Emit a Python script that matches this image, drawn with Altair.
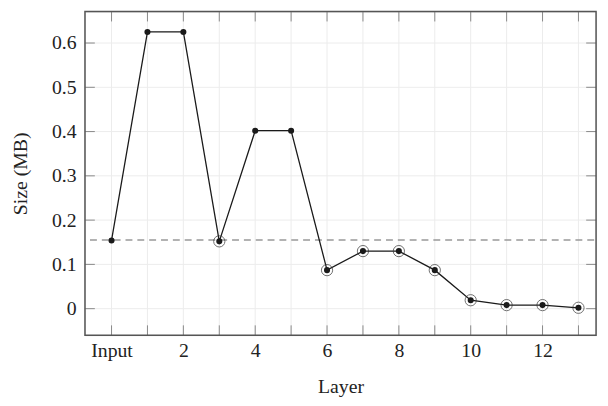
import altair as alt
import pandas as pd

layers = list(range(14))
sizes = [0.154, 0.625, 0.625, 0.152, 0.402, 0.402, 0.087, 0.130, 0.130, 0.087, 0.019, 0.008, 0.008, 0.002]
ringed = [3, 6, 7, 8, 9, 10, 11, 12, 13]
threshold = 0.155
x_label_values = [0, 2, 4, 6, 8, 10, 12]
y_ticks = [0, 0.1, 0.2, 0.3, 0.4, 0.5, 0.6]
x_ticks = list(range(14))

W, H = 518, 328
XD = [-0.74, 13.49]
YD = [-0.06, 0.671]
FONT = "Liberation Serif"
FS = 20

df = pd.DataFrame({"layer": layers, "size": sizes})
df_ring = df[df["layer"].isin(ringed)]
xs = alt.Scale(domain=XD, nice=False, zero=False)
ys = alt.Scale(domain=YD, nice=False, zero=False)

xgrid = alt.Chart(pd.DataFrame({"x": x_ticks})).mark_rule(color="#ececec", strokeWidth=1).encode(
    x=alt.X("x:Q", scale=xs))
ygrid = alt.Chart(pd.DataFrame({"y": y_ticks})).mark_rule(color="#ececec", strokeWidth=1).encode(
    y=alt.Y("y:Q", scale=ys))

tick_col = "#888888"
xt_bot = alt.Chart(pd.DataFrame({"x": x_ticks})).mark_rule(color=tick_col, strokeWidth=1).encode(
    x=alt.X("x:Q", scale=xs), y=alt.value(H - 10), y2=alt.value(H))
xt_top = alt.Chart(pd.DataFrame({"x": x_ticks})).mark_rule(color=tick_col, strokeWidth=1).encode(
    x=alt.X("x:Q", scale=xs), y=alt.value(0), y2=alt.value(10))
yt_left = alt.Chart(pd.DataFrame({"y": y_ticks})).mark_rule(color=tick_col, strokeWidth=1).encode(
    y=alt.Y("y:Q", scale=ys), x=alt.value(0), x2=alt.value(10))
yt_right = alt.Chart(pd.DataFrame({"y": y_ticks})).mark_rule(color=tick_col, strokeWidth=1).encode(
    y=alt.Y("y:Q", scale=ys), x=alt.value(W - 10), x2=alt.value(W))

frame = alt.Chart(pd.DataFrame({"k": [0]})).mark_rect(
    fill=None, filled=False, stroke="#555555", strokeWidth=1.5).encode(
    x=alt.value(0), x2=alt.value(W), y=alt.value(0), y2=alt.value(H))

dash = alt.Chart(pd.DataFrame({"x": [-0.6], "x2": [13.49], "y": [threshold]})).mark_rule(
    color="#999999", strokeWidth=1.6, strokeDash=[7, 5]).encode(
    x=alt.X("x:Q", scale=xs), x2="x2:Q", y=alt.Y("y:Q", scale=ys))

line = alt.Chart(df).mark_line(color="#1a1a1a", strokeWidth=1.3).encode(
    x=alt.X("layer:Q", scale=xs,
            axis=alt.Axis(values=x_label_values, grid=False, ticks=False, domain=False,
                          labelExpr="datum.value == 0 ? 'Input' : datum.label",
                          title="Layer", labelFont=FONT, titleFont=FONT, labelFontSize=FS,
                          titleFontSize=FS, titleFontWeight="normal", labelColor="#222",
                          titleColor="#222", labelPadding=6, titlePadding=16)),
    y=alt.Y("size:Q", scale=ys,
            axis=alt.Axis(values=y_ticks, grid=False, ticks=False, domain=False,
                          labelExpr="datum.value == 0 ? '0' : format(datum.value, '.1f')",
                          title="Size (MB)", labelFont=FONT, titleFont=FONT, labelFontSize=FS,
                          titleFontSize=FS, titleFontWeight="normal", labelColor="#222",
                          titleColor="#222", labelPadding=9, titlePadding=21)))

rings = alt.Chart(df_ring).mark_point(shape="circle", size=130, filled=False,
                                       color="#333333", strokeWidth=1).encode(
    x=alt.X("layer:Q", scale=xs), y=alt.Y("size:Q", scale=ys))
dots = alt.Chart(df).mark_point(shape="circle", size=38, filled=True, color="#1a1a1a",
                                opacity=1).encode(
    x=alt.X("layer:Q", scale=xs), y=alt.Y("size:Q", scale=ys))

chart = alt.layer(xgrid, ygrid, xt_bot, xt_top, yt_left, yt_right, dash, line, rings, dots, frame).properties(
    width=W, height=H, autosize=alt.AutoSizeParams(type="none"),
    padding={"left": 78, "top": 1, "right": 4, "bottom": 62}
).configure_view(stroke=None).configure(background="white")

chart.save("out.html", embed_options={"renderer": "svg", "actions": False})
